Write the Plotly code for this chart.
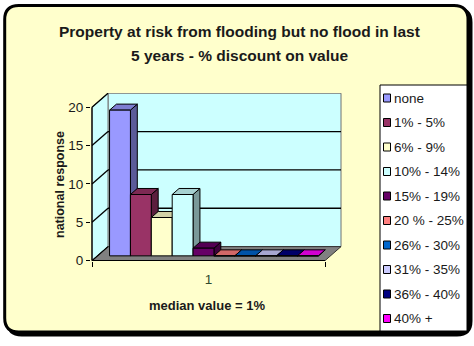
import plotly.graph_objects as go

# ---- chart data -------------------------------------------------------------
title_lines = [
    "Property at risk from flooding but no flood in last",
    "5 years - % discount on value",
]
categories = ["1"]
series_names = [
    "none", "1% - 5%", "6% - 9%", "10% - 14%", "15% - 19%",
    "20 % - 25%", "26% - 30%", "31% - 35%", "36% - 40%", "40% +",
]
responses = [19, 8, 5, 8, 1, 0, 0, 0, 0, 0]
y_ticks = [0, 5, 10, 15, 20]
y_title = "national response"
x_title = "median value = 1%"
series_colors = [
    "#9999FF", "#993366", "#FFFFCC", "#CCFFFF", "#660066",
    "#FF8080", "#0066CC", "#CCCCFF", "#000080", "#FF00FF",
]

# ---- geometry -----------------------------------------------------------------
W, H = 474, 346
ML, MR, MT, MB = 91, 132, 93, 85
PW, PH = W - ML - MR, H - MT - MB
PX_PER_X = 233.0          # pixels per category band
PX_PER_Y = 7.67           # pixels per response unit
X_RANGE = [0.5 - 1 / PX_PER_X, 0.5 + (PW - 1) / PX_PER_X]
Y_RANGE = [-0.05, -0.05 + PH / PX_PER_Y]

DEPTH_X = 16 / PX_PER_X   # oblique depth of floor and walls
DEPTH_Y = 14 / PX_PER_Y
BAR_FRONT, BAR_BACK = 0.34, 0.77
GROUP_W = 0.896
Y_MAX = y_ticks[-1]

WALL = "#CCFFFF"
FLOOR = "#808080"
FONT = "Liberation Sans, Arial, sans-serif"
TEXT = "#1a1a1a"


def px_x(px):
    return (px - ML) / PW


def px_y(py):
    return 1 - (py - MT) / PH


def shade(hex_color, k):
    r, g, b = (int(hex_color[i:i + 2], 16) for i in (1, 3, 5))
    return "rgb({},{},{})".format(int(r * k), int(g * k), int(b * k))


def poly(points):
    return "M " + " L ".join("{:.5f},{:.5f}".format(x, y) for x, y in points) + " Z"


def rounded_rect(x0, y0, x1, y1, r):
    # path in paper coordinates built from pixel corners
    p = [
        ("M", (x0 + r, y0)), ("L", (x1 - r, y0)), ("Q", (x1, y0), (x1, y0 + r)),
        ("L", (x1, y1 - r)), ("Q", (x1, y1), (x1 - r, y1)),
        ("L", (x0 + r, y1)), ("Q", (x0, y1), (x0, y1 - r)),
        ("L", (x0, y0 + r)), ("Q", (x0, y0), (x0 + r, y0)),
    ]
    out = []
    for cmd, *pts in p:
        out.append(cmd + " " + " ".join(
            "{:.5f},{:.5f}".format(px_x(a), px_y(b)) for a, b in pts))
    return " ".join(out) + " Z"


shapes = []

# outer frame with drop shadow
shapes.append(dict(type="path", xref="paper", yref="paper", layer="below",
                   path=rounded_rect(7.7, 8.5, 471, 335, 14),
                   fillcolor="black", line=dict(color="black", width=3)))
shapes.append(dict(type="path", xref="paper", yref="paper", layer="below",
                   path=rounded_rect(4.7, 5.5, 468, 332, 14),
                   fillcolor="#FFFFCC", line=dict(color="black", width=3)))

# walls and floor
x0, x1 = 0.5, 1.5
shapes.append(dict(type="path", xref="x", yref="y", layer="below",
                   path=poly([(x0 + DEPTH_X, DEPTH_Y), (x1 + DEPTH_X, DEPTH_Y),
                              (x1 + DEPTH_X, Y_MAX + DEPTH_Y), (x0 + DEPTH_X, Y_MAX + DEPTH_Y)]),
                   fillcolor=WALL, line=dict(color="#707070", width=1)))
shapes.append(dict(type="path", xref="x", yref="y", layer="below",
                   path=poly([(x0, 0), (x0, Y_MAX), (x0 + DEPTH_X, Y_MAX + DEPTH_Y),
                              (x0 + DEPTH_X, DEPTH_Y)]),
                   fillcolor=WALL, line=dict(color="#707070", width=1)))
shapes.append(dict(type="path", xref="x", yref="y", layer="below",
                   path=poly([(x0, 0), (x1, 0), (x1 + DEPTH_X, DEPTH_Y), (x0 + DEPTH_X, DEPTH_Y)]),
                   fillcolor=FLOOR, line=dict(color="#303030", width=1)))

# gridlines on the back and side walls
for v in y_ticks:
    shapes.append(dict(type="line", xref="x", yref="y", layer="below",
                       x0=x0, y0=v, x1=x0 + DEPTH_X, y1=v + DEPTH_Y,
                       line=dict(color="black", width=1.3)))
    if 0 < v < Y_MAX:
        shapes.append(dict(type="line", xref="x", yref="y", layer="below",
                           x0=x0 + DEPTH_X, y0=v + DEPTH_Y, x1=x1 + DEPTH_X, y1=v + DEPTH_Y,
                           line=dict(color="black", width=1.3)))

# front axis lines
shapes.append(dict(type="line", xref="x", yref="y", layer="below",
                   x0=x0, y0=0, x1=x0, y1=Y_MAX, line=dict(color="black", width=1.3)))
shapes.append(dict(type="line", xref="x", yref="y", layer="below",
                   x0=x0, y0=0, x1=x1, y1=0, line=dict(color="black", width=1.3)))

# bars: front faces as traces, side and top faces as shapes
n = len(series_names)
bar_w = GROUP_W / n
base = BAR_FRONT * DEPTH_Y
ddx = (BAR_BACK - BAR_FRONT) * DEPTH_X
ddy = (BAR_BACK - BAR_FRONT) * DEPTH_Y

fig = go.Figure()
for i, (name, val, col) in enumerate(zip(series_names, responses, series_colors)):
    xc = 1 - GROUP_W / 2 + (i + 0.5) * bar_w + BAR_FRONT * DEPTH_X
    xl, xr = xc - bar_w / 2, xc + bar_w / 2
    top = base + val
    shapes.append(dict(type="path", xref="x", yref="y", layer="below",
                       path=poly([(xr, base), (xr, top), (xr + ddx, top + ddy), (xr + ddx, base + ddy)]),
                       fillcolor=shade(col, 0.6), line=dict(color="black", width=1)))
    shapes.append(dict(type="path", xref="x", yref="y", layer="below",
                       path=poly([(xl, top), (xr, top), (xr + ddx, top + ddy), (xl + ddx, top + ddy)]),
                       fillcolor=shade(col, 0.82), line=dict(color="black", width=1)))
    fig.add_trace(go.Bar(
        x=[xc], y=[val], base=[base], width=[bar_w], name=name,
        marker=dict(color=col, line=dict(color="black", width=1)),
        showlegend=False,
    ))

# legend box
LEG_X0, LEG_X1, LEG_Y0, LEG_Y1 = 380, 467, 85, 331
shapes.append(dict(type="rect", xref="paper", yref="paper", layer="below",
                   x0=px_x(LEG_X0), x1=px_x(LEG_X1), y0=px_y(LEG_Y1), y1=px_y(LEG_Y0),
                   fillcolor="white", line=dict(color="black", width=1)))

annotations = []
for i, (name, col) in enumerate(zip(series_names, series_colors)):
    cy = 98 + 24.5 * i
    shapes.append(dict(type="rect", xref="paper", yref="paper", layer="below",
                       x0=px_x(383.5), x1=px_x(390.5), y0=px_y(cy + 4), y1=px_y(cy - 4),
                       fillcolor=col, line=dict(color="black", width=1)))
    annotations.append(dict(xref="paper", yref="paper", x=px_x(392), y=px_y(cy),
                            xanchor="left", yanchor="middle", showarrow=False, text=name,
                            font=dict(family=FONT, size=13.5, color=TEXT)))

# titles
for line, cy in zip(title_lines, [32, 56]):
    annotations.append(dict(xref="paper", yref="paper", x=px_x(239), y=px_y(cy),
                            xanchor="center", yanchor="middle", showarrow=False,
                            text="<b>" + line + "</b>",
                            font=dict(family=FONT, size=15.5, color=TEXT)))
annotations.append(dict(xref="paper", yref="paper", x=px_x(207), y=px_y(305),
                        xanchor="center", yanchor="middle", showarrow=False,
                        text="<b>" + x_title + "</b>",
                        font=dict(family=FONT, size=13, color=TEXT)))
annotations.append(dict(xref="paper", yref="paper", x=px_x(60), y=px_y(185),
                        xanchor="center", yanchor="middle", showarrow=False, textangle=-90,
                        text="<b>" + y_title + "</b>",
                        font=dict(family=FONT, size=12.5, color=TEXT)))

fig.update_layout(
    width=W, height=H,
    margin=dict(l=ML, r=MR, t=MT, b=MB, pad=0),
    paper_bgcolor="white", plot_bgcolor="rgba(0,0,0,0)",
    barmode="overlay", showlegend=False,
    shapes=shapes, annotations=annotations,
    font=dict(family=FONT, color=TEXT),
    xaxis=dict(range=X_RANGE, showgrid=False, zeroline=False, showline=False,
               tickmode="array", tickvals=[1], ticktext=categories,
               ticks="outside", ticklen=6, tickcolor="rgba(0,0,0,0)",
               tickfont=dict(family=FONT, size=13.5, color="#2e4a2e"),
               minor=dict(tickmode="array", tickvals=[0.5, 1.5], ticks="outside",
                          ticklen=5, tickcolor="black", tickwidth=1.3),
               fixedrange=True),
    yaxis=dict(range=Y_RANGE, showgrid=False, zeroline=False, showline=False,
               tickmode="array", tickvals=y_ticks, ticks="outside", ticklen=4,
               tickcolor="black", tickwidth=1.3,
               tickfont=dict(family=FONT, size=13.5, color=TEXT), fixedrange=True),
)

fig.write_html("out.html", config={"displayModeBar": False})
